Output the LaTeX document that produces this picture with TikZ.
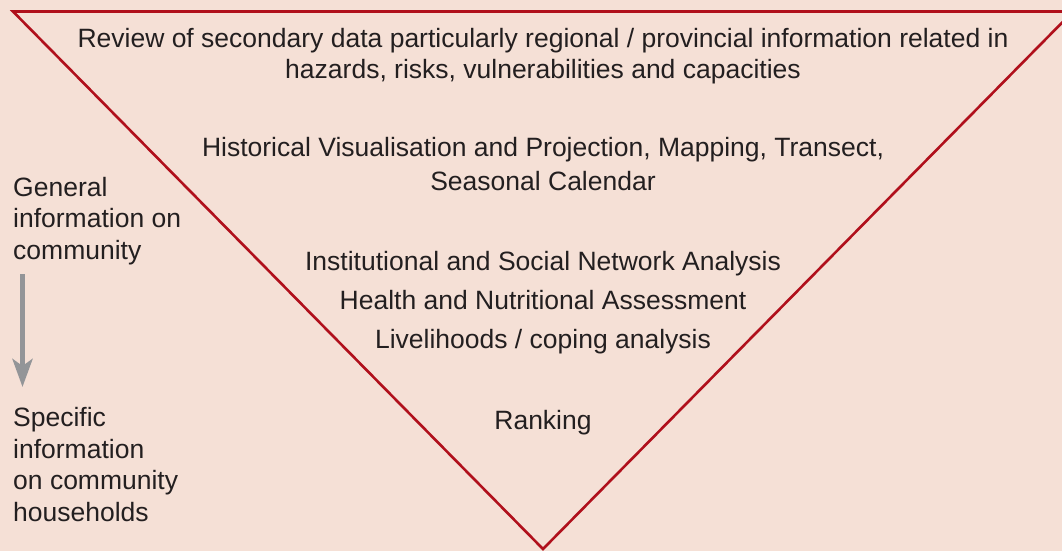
\documentclass[tikz,border=0pt]{standalone}
\usepackage{fontspec}
\setmainfont{Liberation Sans}
\usetikzlibrary{arrows.meta,positioning}
\definecolor{bgpeach}{RGB}{245,224,214}
\definecolor{trired}{RGB}{176,16,28}
\definecolor{txtdark}{RGB}{35,31,32}
\definecolor{arrgray}{RGB}{147,149,152}
\tikzset{
  tri/.style={draw=trired, line width=2.6pt, line join=miter},
  ctxt/.style={font=\fontsize{26.5}{31}\selectfont, text=txtdark, inner sep=0pt, align=center, anchor=base},
  ltxt/.style={font=\fontsize{26.5}{31.5}\selectfont, text=txtdark, inner sep=0pt, align=left, anchor=base west},
  downarr/.style={-{Stealth[length=28pt, width=20pt, inset=7pt]}, arrgray, line width=5pt},
}

\begin{document}
\begin{tikzpicture}[x=1pt, y=-1pt]
  \fill[bgpeach] (0,0) rectangle (1062,551);
  \useasboundingbox (0,0) rectangle (1062,551);
  \begin{scope}
    \clip (0,0) rectangle (1062,551);
    \draw[tri] (13,11.5) -- (543,549) -- (1073,11.5) -- cycle;
  \end{scope}

  % multi-line nodes sit on the baseline of their last line
  \node[ctxt] (review) at (543,78) {Review of secondary data particularly regional / provincial information related in\\hazards, risks, vulnerabilities and capacities};
  \node[ctxt, font=\fontsize{26.5}{34}\selectfont] (hist) at (543,190) {Historical Visualisation and Projection, Mapping, Transect,\\Seasonal Calendar};
  \node[ctxt] (inst) at (543,270) {Institutional and Social Network Analysis};
  \node[ctxt] (health) at (543,309) {Health and Nutritional Assessment};
  \node[ctxt] (liveli) at (543,348) {Livelihoods / coping analysis};
  \node[ctxt] (rank) at (543,429) {Ranking};

  \node[ltxt] (general) at (13,259) {General\\information on\\community};
  \node[ltxt] (specific) at (13,521) {Specific\\information\\on community\\households};

  \coordinate (arrtop) at (22.5,274);
  \coordinate (arrtip) at (22.5,387);
  \draw[downarr] (arrtop) -- (arrtip);
\end{tikzpicture}
\end{document}
